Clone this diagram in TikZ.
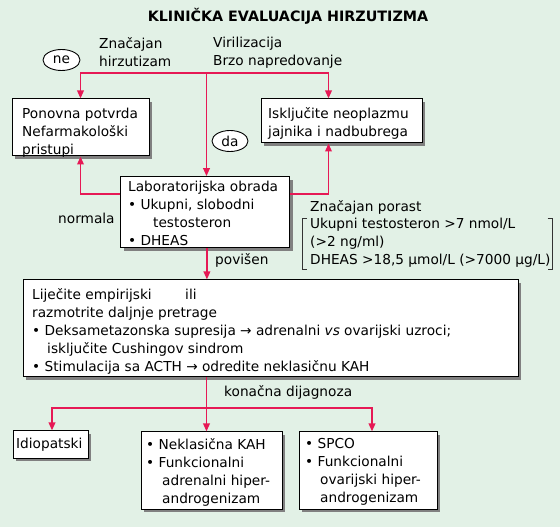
\documentclass[tikz,border=0pt]{standalone}
\usepackage{fontspec}
\setmainfont{DejaVu Sans}
\usetikzlibrary{arrows.meta,shapes.geometric,shadows,calc}
\definecolor{bgc}{RGB}{226,241,230}
\definecolor{arc}{RGB}{230,25,85}
\begin{document}
\begin{tikzpicture}[x=1pt,y=-1pt,
  font=\fontsize{13.7}{18}\selectfont,
  box/.style={draw=black,line width=1pt,fill=white,inner sep=0pt,
    drop shadow={shadow xshift=3pt,shadow yshift=-3pt,fill=black!50,opacity=1}},
  txt/.style={inner sep=0pt,align=left,anchor=west},
  ln/.style={draw=arc,line width=1.8pt},
  arr/.style={ln,-{Triangle[length=8pt,width=6.5pt]}},
  oval/.style={ellipse,draw=black,line width=0.9pt,fill=white,inner sep=0pt},
  brkline/.style={draw=black!80,line width=0.8pt}]

\useasboundingbox (0,0) rectangle (560,529);
\fill[bgc] (0,0) rectangle (560,527);

% title
\node[inner sep=0pt,font=\fontsize{14.3}{16}\selectfont\bfseries] (title) at (288,16.5) {KLINIČKA EVALUACIJA HIRZUTIZMA};

% top labels
\node[txt] (zh) at (99,52.5) {Značajan\\hirzutizam};
\node[txt] (vb) at (213,52.5) {Virilizacija\\Brzo napredovanje};
\node[oval,minimum width=37pt,minimum height=21pt] (ne) at (61.5,60) {ne};
\node[oval,minimum width=36pt,minimum height=21pt] (da) at (230,141) {da};

% boxes
\node[box,minimum width=137pt,minimum height=57pt] (pon) at (80.5,127.5) {};
\node[txt] (pont) at (22,132.5) {Ponovna potvrda\\Nefarmakološki\\pristupi};

\node[box,minimum width=161pt,minimum height=44pt] (isk) at (341.5,121) {};
\node[txt] (iskt) at (268,123) {Isključite neoplazmu\\jajnika i nadbubrega};

\node[box,minimum width=169pt,minimum height=71pt] (lab) at (205.4,212.2) {};
\node[txt] (labt) at (128,213.5) {Laboratorijska obrada\\• Ukupni, slobodni\\\hspace*{25pt}testosteron\\• DHEAS};

\node[box,minimum width=495pt,minimum height=97pt] (big) at (270.5,328.5) {};
\node[txt] (bigt) at (32,331) {\makebox[153pt][l]{Liječite empirijski}ili\\razmotrite daljnje pretrage\\• Deksametazonska supresija → adrenalni \textit{vs} ovarijski uzroci;\\\hspace*{15pt}isključite Cushingov sindrom\\• Stimulacija sa ACTH → odredite neklasičnu KAH};

\node[box,minimum width=75pt,minimum height=27pt] (idio) at (50.5,444.5) {};
\node[txt] (idiot) at (16,445) {Idiopatski};

\node[box,minimum width=141pt,minimum height=77pt] (kah) at (211.5,470.5) {};
\node[txt] (kaht) at (146,472) {• Neklasična KAH\\• Funkcionalni\\\hspace*{16pt}adrenalni hiper-\\\hspace*{16pt}androgenizam};

\node[box,minimum width=138pt,minimum height=77pt] (spco) at (368,470.5) {};
\node[txt] (spcot) at (305,472) {• SPCO\\• Funkcionalni\\\hspace*{15pt}ovarijski hiper-\\\hspace*{15pt}androgenizam};

% side labels
\node[txt] (norm) at (58,218) {normala};
\node[txt] (pov) at (215,260) {povišen};
\node[txt] (kd) at (224,392) {konačna dijagnoza};
\node[txt] (zp) at (310,207) {Značajan porast};
\node[txt] (brk) at (310,243) {Ukupni testosteron >7 nmol/L\\(>2 ng/ml)\\DHEAS >18,5 µmol/L (>7000 µg/L)};

% brackets
\draw[brkline] ([xshift=-3pt]brk.north west) -| ([xshift=-8pt,yshift=-2pt]brk.south west) -- ([xshift=-3pt,yshift=-2pt]brk.south west);
\draw[brkline] ([xshift=-3pt]brk.north east) -| ([xshift=2pt,yshift=-2pt]brk.south east) -- ([xshift=-3pt,yshift=-2pt]brk.south east);

% connectors
\coordinate (tj) at (206.5,73);
\draw[arr] (tj) -- (tj |- lab.north);
\draw[arr] (tj) -| (pon.north);
\draw[arr] (tj) -| ([xshift=-13pt]isk.north);
\draw[arr] ([yshift=-17.5pt]lab.north west) -| (pon.south);
\draw[arr] ([yshift=-17.5pt]lab.north east) -| ([xshift=-13pt]isk.south);
\draw[arr] ([xshift=1.5pt]lab.south) -- ([xshift=1.5pt]lab.south |- big.north);

\coordinate (bj) at (206.5,408);
\draw[arr] (bj |- big.south) -- (bj |- kah.north);
\draw[arr] (bj) -| ([xshift=1.5pt]idio.north);
\draw[arr] (bj) -| ([xshift=4pt]spco.north);
\end{tikzpicture}
\end{document}
